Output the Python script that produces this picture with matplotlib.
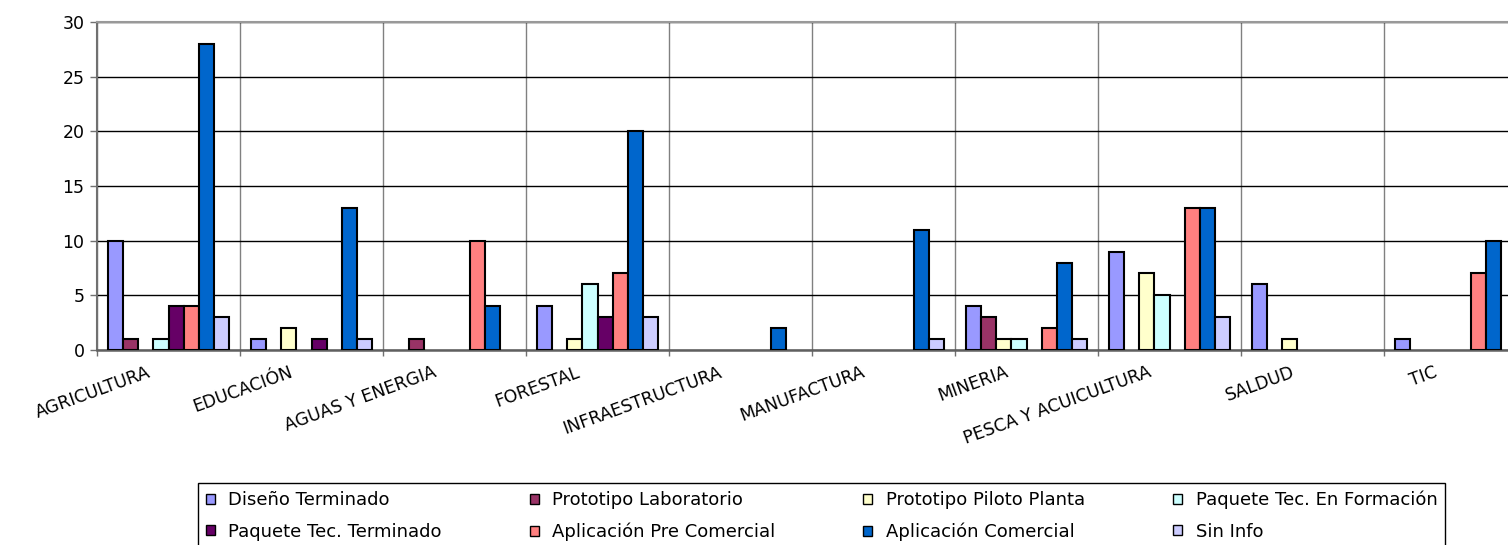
import matplotlib
matplotlib.use("Agg")
import matplotlib.pyplot as plt
import matplotlib.patches as mpatches
from matplotlib.transforms import ScaledTranslation
import numpy as np

categories = ["AGRICULTURA", "EDUCACIÓN", "AGUAS Y ENERGIA", "FORESTAL",
              "INFRAESTRUCTURA", "MANUFACTURA", "MINERIA",
              "PESCA Y ACUICULTURA", "SALDUD", "TIC"]

series_names = ["Diseño Terminado", "Prototipo Laboratorio", "Prototipo Piloto Planta",
                "Paquete Tec. En Formación", "Paquete Tec. Terminado",
                "Aplicación Pre Comercial", "Aplicación Comercial", "Sin Info"]

diseno_terminado = [10, 1, 0, 4, 0, 0, 4, 9, 6, 1]
prototipo_laboratorio = [1, 0, 1, 0, 0, 0, 3, 0, 0, 0]
prototipo_piloto = [0, 2, 0, 1, 0, 0, 1, 7, 1, 0]
paquete_formacion = [1, 0, 0, 6, 0, 0, 1, 5, 0, 0]
paquete_terminado = [4, 1, 0, 3, 0, 0, 0, 0, 0, 0]
aplicacion_pre = [4, 0, 10, 7, 0, 0, 2, 13, 0, 7]
aplicacion_comercial = [28, 13, 4, 20, 2, 11, 8, 13, 0, 10]
sin_info = [3, 1, 0, 3, 0, 1, 1, 3, 0, 0]

colors = ["#9999FF", "#993366", "#FFFFCC", "#CCFFFF",
          "#660066", "#FF8080", "#0066CC", "#CCCCFF"]

all_series = [diseno_terminado, prototipo_laboratorio, prototipo_piloto,
              paquete_formacion, paquete_terminado, aplicacion_pre,
              aplicacion_comercial, sin_info]

plt.rcParams['font.family'] = ['DejaVu Sans']

W, H = 1508, 545
fig = plt.figure(figsize=(W / 100, H / 100), dpi=100)
# axes runs past the right edge, like the cropped original
ax = fig.add_axes([97 / W, (H - 350) / H, (1527 - 97) / W, 328 / H])

x = np.arange(len(categories))
w = 1 / 9.5
for j, (vals, c, name) in enumerate(zip(all_series, colors, series_names)):
    bars = ax.bar(x + (j - 3.5) * w, vals, width=w, color=c,
                  edgecolor="black", linewidth=1.5, zorder=3, label=name)
    # empty bars leave no flat outline
    for b, v in zip(bars, vals):
        if v == 0:
            b.set_visible(False)

ax.set_xlim(-0.5, len(categories) - 0.5)
ax.set_ylim(0, 30)
ax.set_yticks(range(0, 31, 5))
ax.tick_params(axis="y", labelsize=12.5, length=5, width=1, color="#707070", pad=4)

ax.set_xticks(x)
ax.set_xticklabels(categories, rotation=20, ha="right", rotation_mode="anchor",
                   fontsize=12.5, va="top")
ax.tick_params(axis="x", which="major", length=0, pad=0)
ax.set_xticks(np.arange(-0.5, len(categories), 1), minor=True)
ax.tick_params(axis="x", which="minor", length=4.5, width=1, color="#707070")
offset = ScaledTranslation(-22 / 100, -13 / 100, fig.dpi_scale_trans)
for lab in ax.get_xticklabels():
    lab.set_transform(lab.get_transform() + offset)

ax.yaxis.grid(True, color="black", linewidth=1)
ax.xaxis.grid(True, which="minor", color="#808080", linewidth=1)
ax.set_axisbelow(True)

ax.spines["right"].set_visible(False)
ax.spines["top"].set_color("#999999")
ax.spines["top"].set_linewidth(1.5)
ax.spines["left"].set_color("#707070")
ax.spines["left"].set_linewidth(1.5)
ax.spines["bottom"].set_color("#606060")
ax.spines["bottom"].set_linewidth(1.8)

order = [0, 4, 1, 5, 2, 6, 3, 7]
leg_handles = [mpatches.Patch(facecolor=colors[i], edgecolor="black", linewidth=1)
               for i in order]
leg_labels = [series_names[i] for i in order]
top = 1 - 483 / H
leg = fig.legend(leg_handles, leg_labels, ncol=4, mode="expand", loc="upper left",
                 bbox_to_anchor=(198 / W, top - 0.5, (1445 - 198) / W, 0.5),
                 borderaxespad=0, fontsize=13, frameon=True, fancybox=False,
                 edgecolor="black", framealpha=1, borderpad=0.42,
                 labelspacing=0.75, handlelength=0.5, handleheight=0.5,
                 handletextpad=0.75, columnspacing=1.0)
leg.get_frame().set_linewidth(1)

fig.savefig("out.png", dpi=100)
